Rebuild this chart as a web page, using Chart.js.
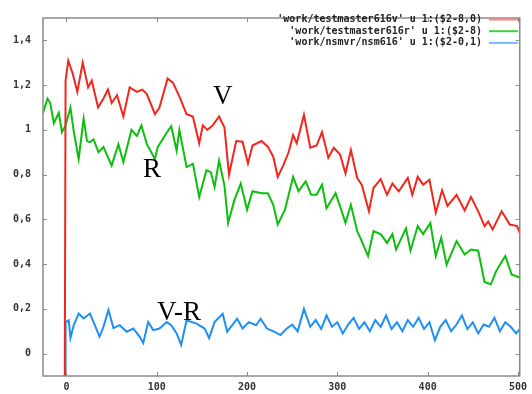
<!DOCTYPE html>
<html>
<head>
<meta charset="utf-8">
<script src="https://cdn.jsdelivr.net/npm/chart.js@4.4.1/dist/chart.umd.min.js"></script>
<style>
  html, body { margin: 0; padding: 0; background: #fff; }
  #wrap { width: 532px; height: 394px; }
</style>
</head>
<body>
<div id="wrap"><canvas id="chart" width="532" height="394"></canvas></div>
<script>
// DATA

const xTicks = [0, 100, 200, 300, 400, 500];
const yTicks = [0, 0.2, 0.4, 0.6, 0.8, 1, 1.2, 1.4];

const legendLabels = [
  "'work/testmaster616v' u 1:($2-8,0)",
  "'work/testmaster616r' u 1:($2-8)",
  "'work/nsmvr/nsm616' u 1:($2-0,1)",
];

const vX = [-2, -1, 2, 7, 12, 18, 24, 28, 35, 41, 46, 50, 56, 63, 70, 78, 84, 89, 98, 103,
  112, 118, 125, 133, 140, 147, 151, 156, 162, 169, 175, 180, 188, 195, 201, 206, 216, 223,
  229, 234, 240, 246, 251, 255, 263, 270, 277, 283, 290, 296, 303, 309, 315, 322, 327, 335,
  340, 348, 355, 361, 368, 378, 383, 389, 395, 402, 409, 416, 422, 432, 441, 448, 456, 463,
  467, 472, 482, 491, 499, 502];
const vY = [-0.3, 1.22, 1.31, 1.25, 1.17, 1.30, 1.19, 1.22, 1.10, 1.14, 1.18, 1.12, 1.155, 1.06,
  1.19, 1.17, 1.18, 1.16, 1.07, 1.10, 1.23, 1.21, 1.15, 1.07, 1.06, 0.94, 1.02, 1.00, 1.02,
  1.06, 1.01, 0.80, 0.95, 0.947, 0.85, 0.93, 0.95, 0.925, 0.88, 0.79, 0.84, 0.90, 0.977, 0.94,
  1.067, 0.92, 0.93, 0.99, 0.875, 0.92, 0.89, 0.805, 0.91, 0.785, 0.755, 0.636, 0.74, 0.78,
  0.71, 0.76, 0.725, 0.785, 0.71, 0.79, 0.755, 0.777, 0.63, 0.73, 0.66, 0.71, 0.64, 0.70,
  0.636, 0.57, 0.59, 0.555, 0.636, 0.577, 0.57, 0.54];

const rX = [-26, -21, -18, -14, -8.5, -5, -1, 4.4, 8, 13.5, 19, 22.7, 26, 30, 35.5, 41, 50, 57.5,
  63, 72, 78, 83, 89, 98, 101, 111, 116, 122, 125, 133, 140, 147, 155, 160, 164, 169, 175, 179,
  186, 193, 200, 206, 216, 223, 229, 234, 242, 251, 257, 265, 271, 277, 283, 288, 298, 303,
  309, 315, 322, 327, 334, 340, 348, 355, 361, 365, 376, 381, 389, 395, 403, 409, 415, 421,
  432, 441, 448, 456, 463, 470, 476, 486, 493, 502];
const rY = [1.076, 1.14, 1.12, 1.03, 1.076, 0.99, 1.02, 1.10, 0.994, 0.87, 1.05, 0.95, 0.945,
  0.958, 0.90, 0.923, 0.84, 0.936, 0.856, 1.0, 0.973, 1.02, 0.936, 0.87, 0.923, 0.987, 1.016,
  0.907, 1.0, 0.834, 0.849, 0.70, 0.82, 0.81, 0.745, 0.863, 0.75, 0.584, 0.687, 0.76, 0.643,
  0.726, 0.717, 0.717, 0.665, 0.577, 0.643, 0.79, 0.726, 0.77, 0.71, 0.71, 0.755, 0.65, 0.717,
  0.658, 0.584, 0.665, 0.547, 0.503, 0.436, 0.547, 0.534, 0.495, 0.534, 0.465, 0.56, 0.46,
  0.57, 0.534, 0.584, 0.436, 0.517, 0.398, 0.503, 0.443, 0.465, 0.46, 0.32, 0.31, 0.37, 0.436,
  0.354, 0.34];

const vrX = [-1.5, -1, 2.5, 4.4, 8, 13.5, 19, 26, 30, 36.6, 41, 46.5, 52, 59, 66.7, 74, 81, 85,
  90.5, 96, 103, 111, 116, 122, 127, 133, 144, 153, 158, 164, 173, 178, 189, 195, 202, 210,
  215, 222, 230, 237, 244, 250, 256, 263, 270, 276, 282, 288, 294, 300, 306, 312, 318, 324,
  330, 336, 342, 348, 354, 360, 366, 372, 378, 384, 390, 396, 402, 408, 414, 420, 426, 432,
  438, 444, 450, 456, 462, 468, 474, 480, 486, 492, 498, 502];
const vrY = [-0.3, 0.141, 0.149, 0.07, 0.127, 0.179, 0.157, 0.179, 0.141, 0.076, 0.12, 0.195,
  0.114, 0.127, 0.098, 0.112, 0.076, 0.047, 0.141, 0.105, 0.112, 0.141, 0.127, 0.09, 0.039,
  0.149, 0.134, 0.112, 0.069, 0.141, 0.178, 0.098, 0.156, 0.112, 0.141, 0.127, 0.156, 0.112,
  0.098, 0.083, 0.112, 0.13, 0.10, 0.20, 0.12, 0.15, 0.11, 0.17, 0.12, 0.14, 0.09, 0.13, 0.16,
  0.11, 0.14, 0.10, 0.15, 0.12, 0.17, 0.11, 0.14, 0.10, 0.15, 0.12, 0.16, 0.11, 0.14, 0.06,
  0.12, 0.15, 0.10, 0.13, 0.17, 0.11, 0.14, 0.09, 0.13, 0.12, 0.16, 0.10, 0.14, 0.12, 0.09,
  0.11];

// CHART

const colors = ['#f2261c', '#0cbf0c', '#1e8ff5'];
const legendColors = ['#ff8080', '#40d040', '#70b8ff'];
const frameColor = '#8a8a8a';
const tickFont = 'bold 10px "DejaVu Sans Mono", monospace';

const toPoints = (xs, ys) => xs.map((x, i) => ({ x, y: ys[i] }));

const gnuplotFrame = {
  id: 'gnuplotFrame',
  afterDraw(chart) {
    const { ctx, chartArea: a, scales } = chart;
    ctx.save();
    ctx.strokeStyle = frameColor;
    ctx.lineWidth = 1.5;
    ctx.strokeRect(a.left, a.top, a.right - a.left, a.bottom - a.top);

    // inward ticks on all four sides
    ctx.lineWidth = 1;
    ctx.beginPath();
    xTicks.forEach((t) => {
      const px = Math.round(scales.x.getPixelForValue(t)) + 0.5;
      ctx.moveTo(px, a.bottom);
      ctx.lineTo(px, a.bottom - 4);
      ctx.moveTo(px, a.top);
      ctx.lineTo(px, a.top + 4);
    });
    yTicks.forEach((t) => {
      const py = Math.round(scales.y.getPixelForValue(t)) + 0.5;
      ctx.moveTo(a.left, py);
      ctx.lineTo(a.left + 4, py);
      ctx.moveTo(a.right, py);
      ctx.lineTo(a.right - 4, py);
    });
    ctx.stroke();

    // key, top right
    ctx.font = tickFont;
    ctx.textAlign = 'right';
    ctx.textBaseline = 'middle';
    legendLabels.forEach((label, i) => {
      const y = 19.5 + i * 11.7;
      ctx.fillStyle = '#222';
      ctx.fillText(label, 482, y);
      ctx.strokeStyle = legendColors[i];
      ctx.lineWidth = 2;
      ctx.beginPath();
      ctx.moveTo(489, y);
      ctx.lineTo(518, y);
      ctx.stroke();
    });

    // curve labels
    ctx.font = '27px "Liberation Serif", "DejaVu Serif", serif';
    ctx.fillStyle = '#000';
    ctx.textAlign = 'left';
    ctx.textBaseline = 'alphabetic';
    ctx.fillText('V', 213, 104);
    ctx.fillText('R', 143, 177);
    ctx.fillText('V-R', 157, 320);
    ctx.restore();
  },
};

const chart = new Chart(document.querySelector('#chart'), {
  type: 'line',
  data: {
    datasets: [
      { data: toPoints(vX, vY), borderColor: colors[0] },
      { data: toPoints(rX, rY), borderColor: colors[1] },
      { data: toPoints(vrX, vrY), borderColor: colors[2] },
    ].map((d) => ({
      ...d,
      borderWidth: 2,
      pointRadius: 0,
      tension: 0,
      fill: false,
    })),
  },
  options: {
    responsive: false,
    animation: false,
    layout: { padding: { top: 11, right: 9, left: 0, bottom: 0 } },
    plugins: {
      legend: false,
      tooltip: { enabled: false },
    },
    scales: {
      x: {
        type: 'linear',
        min: -26,
        max: 502,
        afterFit: (s) => { s.height = 16; },
        afterBuildTicks: (s) => { s.ticks = xTicks.map((value) => ({ value })); },
        grid: { display: false, drawTicks: false },
        border: { display: false },
        ticks: {
          padding: 5,
          color: '#333',
          font: { family: '"DejaVu Sans Mono", monospace', size: 10, weight: 'bold' },
          maxRotation: 0,
          autoSkip: false,
        },
      },
      y: {
        min: -0.1,
        max: 1.5,
        afterFit: (s) => { s.width = 43; },
        afterBuildTicks: (s) => { s.ticks = yTicks.map((value) => ({ value })); },
        grid: { display: false, drawTicks: false },
        border: { display: false },
        ticks: {
          padding: 12,
          color: '#333',
          font: { family: '"DejaVu Sans Mono", monospace', size: 10, weight: 'bold' },
          callback: (v) => String(Math.round(v * 10) / 10).replace('.', ','),
        },
      },
    },
  },
  plugins: [gnuplotFrame],
});
</script>
</body>
</html>
